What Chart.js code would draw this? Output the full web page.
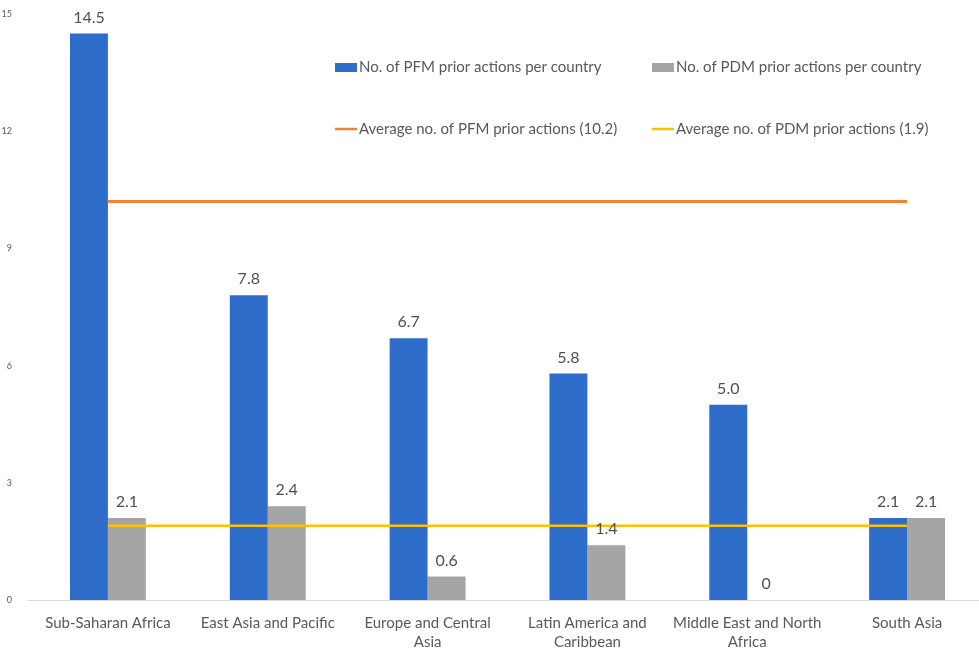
<!DOCTYPE html>
<html>
<head>
<meta charset="utf-8">
<script src="https://cdn.jsdelivr.net/npm/chart.js@4/dist/chart.umd.min.js"></script>
<style>
  html, body { margin: 0; padding: 0; background: #fff; overflow: hidden; }
  #wrap { width: 1000px; height: 649px; position: relative; }
</style>
</head>
<body>
<div id="wrap"><canvas id="prior-actions-chart"></canvas></div>
<script>
// Prior actions per country, by region
const categories = [
    ['Sub-Saharan Africa'],
    ['East Asia and Pacific'],
    ['Europe and Central', 'Asia'],
    ['Latin America and', 'Caribbean'],
    ['Middle East and North', 'Africa'],
    ['South Asia']
];
const pfmPerCountry = [14.5, 7.8, 6.7, 5.8, 5.0, 2.1];
const pdmPerCountry = [2.1, 2.4, 0.6, 1.4, 0, 2.1];
const pfmAverage = [10.2, 10.2, 10.2, 10.2, 10.2, 10.2];
const pdmAverage = [1.9, 1.9, 1.9, 1.9, 1.9, 1.9];
const yTicks = [0, 3, 6, 9, 12, 15];

const FONT = 'Lato, "Open Sans", sans-serif';
const TEXT = '#595959';

// value labels above each bar
const barLabels = {
    id: 'barLabels',
    afterDatasetsDraw(chart) {
        const ctx = chart.ctx;
        ctx.save();
        ctx.font = '16px ' + FONT;
        ctx.fillStyle = '#505050';
        ctx.textAlign = 'center';
        ctx.textBaseline = 'middle';
        chart.data.datasets.forEach((ds, i) => {
            if (ds.type !== 'bar') return;
            chart.getDatasetMeta(i).data.forEach((el, j) => {
                const v = ds.data[j];
                const txt = v === 0 ? '0' : v.toFixed(1);
                ctx.fillText(txt, el.x, el.y - 16);
            });
        });
        ctx.restore();
    }
};

// legend laid out in two rows inside the plot
const insideLegend = {
    id: 'insideLegend',
    afterDraw(chart, args, opts) {
        const ctx = chart.ctx;
        ctx.save();
        ctx.font = '15px ' + FONT;
        ctx.textBaseline = 'middle';
        chart.data.datasets.forEach((ds, i) => {
            const pos = opts.slots[i];
            if (ds.type === 'bar') {
                ctx.fillStyle = ds.backgroundColor;
                ctx.fillRect(pos.x, pos.y - 4, 22, 9);
            } else {
                ctx.strokeStyle = ds.borderColor;
                ctx.lineWidth = 2.5;
                ctx.beginPath();
                ctx.moveTo(pos.x, pos.y);
                ctx.lineTo(pos.x + 22, pos.y);
                ctx.stroke();
            }
            ctx.fillStyle = TEXT;
            ctx.fillText(ds.label, pos.x + 24, pos.y);
        });
        ctx.restore();
    }
};

new Chart(document.getElementById('prior-actions-chart'), {
    data: {
        labels: categories,
        datasets: [{
            type: 'bar',
            label: 'No. of PFM prior actions per country',
            data: pfmPerCountry,
            backgroundColor: '#2E6DC9',
            order: 2
        }, {
            type: 'bar',
            label: 'No. of PDM prior actions per country',
            data: pdmPerCountry,
            backgroundColor: '#A5A5A5',
            order: 2
        }, {
            type: 'line',
            label: 'Average no. of PFM prior actions (10.2)',
            data: pfmAverage,
            borderColor: '#F58231',
            borderWidth: 3,
            pointRadius: 0,
            tension: 0,
            order: 1
        }, {
            type: 'line',
            label: 'Average no. of PDM prior actions (1.9)',
            data: pdmAverage,
            borderColor: '#FFC000',
            borderWidth: 2.5,
            pointRadius: 0,
            tension: 0,
            order: 1
        }]
    },
    options: {
        responsive: true,
        maintainAspectRatio: false,
        animation: false,
        layout: { padding: { top: 14, right: 13, left: 0, bottom: 0 } },
        datasets: {
            bar: { categoryPercentage: 0.475, barPercentage: 1 }
        },
        plugins: {
            legend: { display: false },
            tooltip: { enabled: false },
            insideLegend: {
                slots: [
                    { x: 335, y: 67 },
                    { x: 652, y: 67 },
                    { x: 335, y: 129 },
                    { x: 652, y: 129 }
                ]
            }
        },
        scales: {
            x: {
                afterFit: (scale) => { scale.height = 49; },
                grid: { display: false },
                border: { display: true, color: '#D9D9D9', width: 1 },
                ticks: { color: TEXT, font: { family: FONT, size: 15, lineHeight: 1.25 }, padding: 6, maxRotation: 0, autoSkip: false }
            },
            y: {
                min: 0,
                max: 15,
                afterBuildTicks: (scale) => { scale.ticks = yTicks.map(v => ({ value: v })); },
                afterFit: (scale) => { scale.width = 28; },
                grid: { display: false },
                border: { display: false },
                ticks: { color: TEXT, font: { family: FONT, size: 9 }, padding: 8 }
            }
        }
    },
    plugins: [barLabels, insideLegend]
});
</script>
</body>
</html>
